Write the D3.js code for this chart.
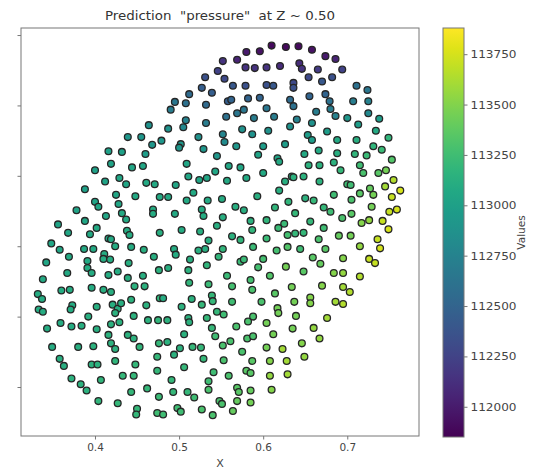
<!DOCTYPE html>
<html>
<head>
<meta charset="utf-8">
<script src="https://cdn.jsdelivr.net/npm/d3@7"></script>
<style>
  body { margin: 0; background: #fff; }
  svg { display: block; }
  text { font-family: "DejaVu Sans", sans-serif; }
</style>
</head>
<body>
<svg id="chart" width="535" height="472"></svg>
<script>
// Axis ticks
const xTicks = [0.4, 0.5, 0.6, 0.7];
const yTicks = [0.3, 0.4, 0.5, 0.6, 0.7, 0.8];
const colorTicks = [112000, 112250, 112500, 112750, 113000, 113250, 113500, 113750];

// Sample locations (X, Y) and predicted pressure, one line per patch of the slice
const X = [
  0.552,0.546,0.531,0.554,0.527,0.539,0.512,0.495,0.508,0.532,0.558,0.490,0.556,0.508,0.505,0.532,0.464,0.487,0.552,0.439,0.455,0.523,0.479,0.468,0.502,0.500,0.554,0.529,0.416,0.432,0.460,0.545,
  0.610,0.627,0.642,0.658,0.596,0.580,0.674,0.686,0.569,0.579,0.590,0.604,0.620,0.643,0.646,0.665,0.694,0.654,0.682,0.670,0.564,0.579,0.604,0.612,0.636,0.636,0.711,0.724,0.674,0.655,0.562,0.582,0.596,0.632,0.679,0.707,0.725,0.636,0.577,0.569,0.604,0.680,0.663,0.725,0.686,0.589,0.613,0.640,0.700,0.738,0.658,0.632,0.713,0.575,0.587,0.606,0.676,0.734,0.653,0.658,0.688,0.711,0.749,0.568,0.600,0.626,0.731,0.741,0.666,0.594,0.617,0.649,0.688,0.709,0.723,0.753,
  0.419,0.444,0.457,0.400,0.412,0.429,0.437,0.461,0.471,0.388,0.425,0.448,0.477,0.400,0.404,0.428,0.469,0.469,0.378,0.413,0.432,0.437,0.388,0.356,0.402,0.394,0.438,0.441,0.368,0.477,0.416,0.419,0.348,0.424,0.443,0.358,0.387,0.398,0.411,0.458,0.369,0.410,0.418,0.391,0.470,0.342,0.391,0.396,0.427,0.440,0.416,0.439,0.457,0.476,0.367,0.338,
  0.509,0.559,0.573,0.543,0.600,0.619,0.511,0.524,0.533,0.557,0.580,0.496,0.634,0.626,0.517,0.619,0.487,0.509,0.534,0.551,0.593,0.630,0.527,0.529,0.567,0.577,0.614,0.495,0.552,0.585,0.604,0.625,0.618,0.503,0.525,0.545,0.587,0.563,0.573,0.604,0.629,0.535,0.494,0.496,0.523,0.531,0.552,0.588,0.616,0.629,0.513,0.547,0.573,0.577,0.600,0.533,0.594,0.627,0.487,0.511,0.608,0.557,0.512,0.535,0.563,0.585,
  0.654,0.667,0.684,0.692,0.715,0.719,0.737,0.746,0.636,0.648,0.667,0.700,0.704,0.755,0.745,0.763,0.727,0.731,0.715,0.753,0.684,0.705,0.650,0.660,0.729,0.672,0.680,0.705,0.750,0.759,0.638,0.694,0.717,0.726,0.742,0.656,0.672,0.749,0.638,0.648,0.690,0.704,0.666,0.736,0.715,0.739,0.644,0.674,0.659,0.695,0.726,0.733,0.668,0.648,0.684,0.695,0.715,0.670,0.695,
  0.332,0.337,0.360,0.370,0.396,0.410,0.419,0.447,0.459,0.443,0.477,0.333,0.338,0.373,0.371,0.402,0.421,0.427,0.431,0.424,0.461,0.392,0.446,0.463,0.475,0.343,0.359,0.372,0.384,0.402,0.419,0.429,0.416,0.439,0.446,0.419,0.424,0.453,0.349,0.380,0.398,0.476,0.358,0.363,0.396,0.403,0.424,0.448,0.474,0.474,0.372,0.383,0.390,0.407,0.433,0.446,0.462,0.443,0.476,0.404,0.427,0.450,0.449,0.474,
  0.587,0.614,0.481,0.515,0.539,0.540,0.563,0.598,0.617,0.618,0.503,0.527,0.545,0.553,0.486,0.511,0.512,0.533,0.582,0.588,0.604,0.568,0.539,0.543,0.506,0.561,0.581,0.588,0.612,0.486,0.501,0.494,0.516,0.526,0.552,0.575,0.604,0.623,0.529,0.553,0.587,0.608,0.628,0.506,0.580,0.585,0.541,0.559,0.608,0.629,0.535,0.491,0.569,0.571,0.585,0.610,0.493,0.510,0.518,0.535,0.548,0.551,0.569,0.585,0.498,0.502,0.527,0.540,0.564,0.481,
  0.703,0.634,0.637,0.656,0.656,0.686,0.695,0.639,0.676,0.635,0.660,0.667,0.646,0.649
];
const Y = [
  0.763,0.749,0.740,0.738,0.725,0.718,0.716,0.705,0.703,0.701,0.706,0.694,0.684,0.679,0.669,0.675,0.672,0.667,0.659,0.655,0.655,0.655,0.650,0.644,0.645,0.640,0.648,0.638,0.635,0.634,0.631,0.628,
  0.785,0.783,0.784,0.779,0.777,0.776,0.770,0.766,0.765,0.754,0.753,0.754,0.756,0.760,0.752,0.751,0.751,0.740,0.740,0.734,0.728,0.728,0.729,0.728,0.732,0.725,0.728,0.722,0.716,0.713,0.708,0.710,0.711,0.708,0.706,0.706,0.706,0.699,0.694,0.689,0.696,0.695,0.691,0.689,0.685,0.682,0.684,0.680,0.682,0.681,0.675,0.670,0.673,0.666,0.659,0.664,0.663,0.664,0.658,0.651,0.651,0.651,0.654,0.642,0.642,0.645,0.642,0.637,0.636,0.630,0.625,0.631,0.632,0.631,0.629,0.623,
  0.617,0.612,0.614,0.608,0.592,0.597,0.588,0.590,0.588,0.581,0.573,0.571,0.570,0.563,0.556,0.560,0.552,0.546,0.551,0.543,0.547,0.538,0.536,0.531,0.526,0.517,0.522,0.516,0.519,0.519,0.511,0.510,0.504,0.500,0.499,0.495,0.496,0.496,0.489,0.495,0.485,0.482,0.481,0.479,0.485,0.477,0.469,0.462,0.464,0.476,0.459,0.455,0.458,0.466,0.462,0.453,
  0.617,0.614,0.612,0.606,0.604,0.620,0.599,0.594,0.597,0.593,0.597,0.587,0.599,0.592,0.576,0.579,0.570,0.565,0.565,0.567,0.571,0.563,0.552,0.543,0.556,0.551,0.555,0.546,0.541,0.536,0.537,0.532,0.526,0.523,0.521,0.529,0.523,0.514,0.509,0.511,0.516,0.508,0.496,0.488,0.494,0.496,0.496,0.499,0.494,0.499,0.481,0.485,0.478,0.481,0.482,0.473,0.470,0.471,0.469,0.466,0.458,0.458,0.448,0.446,0.443,0.452,
  0.615,0.615,0.619,0.608,0.615,0.604,0.604,0.608,0.598,0.599,0.592,0.588,0.587,0.594,0.585,0.579,0.582,0.573,0.575,0.570,0.573,0.566,0.568,0.565,0.556,0.555,0.549,0.546,0.549,0.552,0.547,0.540,0.533,0.537,0.536,0.535,0.526,0.524,0.518,0.519,0.515,0.515,0.510,0.510,0.500,0.497,0.496,0.496,0.484,0.483,0.482,0.476,0.475,0.464,0.462,0.462,0.457,0.444,0.442,
  0.432,0.425,0.437,0.438,0.441,0.438,0.435,0.443,0.443,0.424,0.426,0.410,0.407,0.416,0.410,0.414,0.417,0.411,0.419,0.405,0.416,0.400,0.401,0.395,0.395,0.383,0.391,0.386,0.387,0.382,0.389,0.392,0.374,0.374,0.369,0.362,0.354,0.357,0.357,0.357,0.358,0.362,0.340,0.330,0.332,0.332,0.337,0.332,0.343,0.323,0.312,0.304,0.295,0.310,0.316,0.316,0.298,0.293,0.286,0.280,0.277,0.269,0.261,0.263,
  0.438,0.433,0.426,0.425,0.430,0.422,0.421,0.421,0.412,0.405,0.414,0.417,0.407,0.403,0.395,0.398,0.392,0.398,0.393,0.400,0.391,0.386,0.384,0.372,0.375,0.365,0.369,0.372,0.375,0.364,0.355,0.346,0.357,0.356,0.359,0.350,0.356,0.354,0.340,0.338,0.337,0.337,0.337,0.328,0.323,0.320,0.321,0.316,0.316,0.318,0.308,0.310,0.299,0.293,0.295,0.296,0.293,0.293,0.285,0.296,0.280,0.276,0.280,0.278,0.270,0.265,0.268,0.260,0.266,0.261,
  0.435,0.442,0.421,0.427,0.419,0.421,0.418,0.401,0.398,0.383,0.384,0.369,0.362,0.343
];
const pressure = [
  112150,112250,112350,112300,112450,112450,112550,112650,112600,112550,112450,112700,112600,112750,112800,112700,112875,112875,112775,112925,112925,112875,112925,112925,112925,112925,112825,112925,113000,113000,112975,112925,
  111900,111900,111900,111950,111950,112000,112000,112050,112050,112150,112150,112150,112100,112100,112150,112200,112250,112300,112350,112400,112400,112350,112350,112400,112300,112350,112600,112650,112500,112500,112500,112500,112500,112550,112600,112700,112750,112600,112650,112650,112650,112700,112700,112800,112750,112700,112700,112750,112925,112975,112875,112875,112975,112875,112875,112875,112975,113075,112975,112975,113075,113125,113175,112925,112975,112975,113175,113225,113075,113025,113025,113075,113125,113175,113225,113325,
  113025,113050,113050,113000,113025,113050,113050,113075,113075,113000,113050,113075,113075,113025,113050,113050,113100,113100,113025,113050,113075,113075,113050,113025,113075,113075,113100,113100,113050,113125,113075,113075,113050,113100,113100,113050,113075,113075,113100,113125,113075,113100,113100,113075,113125,113050,113100,113100,113100,113125,113100,113125,113125,113150,113075,113075,
  113050,113050,113050,113050,113075,113075,113050,113050,113050,113075,113075,113050,113125,113125,113075,113125,113075,113075,113075,113100,113125,113175,113100,113100,113125,113125,113175,113075,113125,113150,113175,113225,113225,113100,113125,113125,113175,113150,113175,113225,113275,113125,113100,113100,113125,113125,113175,113225,113275,113325,113125,113175,113225,113225,113275,113175,113275,113450,113125,113150,113325,113225,113175,113225,113275,113275,
  113150,113150,113150,113200,113250,113300,113350,113450,113150,113150,113150,113250,113250,113650,113600,113750,113400,113450,113350,113700,113250,113300,113150,113200,113450,113200,113250,113350,113700,113750,113200,113300,113500,113550,113700,113200,113250,113750,113200,113200,113400,113450,113300,113700,113550,113750,113250,113350,113350,113500,113700,113700,113400,113350,113500,113550,113650,113500,113600,
  113100,113100,113100,113100,113100,113125,113125,113150,113150,113150,113175,113100,113100,113100,113100,113125,113125,113125,113125,113150,113150,113125,113150,113150,113175,113100,113100,113100,113125,113125,113150,113150,113150,113150,113150,113150,113150,113175,113100,113125,113150,113200,113125,113125,113150,113150,113175,113200,113200,113200,113150,113150,113150,113175,113200,113200,113200,113200,113225,113175,113200,113200,113200,113250,
  113300,113350,113100,113150,113200,113200,113250,113300,113450,113450,113150,113200,113200,113250,113150,113150,113150,113200,113300,113300,113450,113300,113200,113250,113150,113300,113300,113300,113450,113150,113150,113150,113200,113200,113300,113300,113450,113600,113200,113300,113350,113500,113600,113200,113350,113350,113250,113300,113550,113600,113250,113200,113350,113350,113400,113500,113200,113200,113250,113300,113300,113300,113400,113450,113250,113250,113300,113300,113400,113250,
  113650,113450,113450,113500,113500,113600,113650,113450,113600,113450,113550,113550,113500,113550
];

const W = 535, H = 472;
const plot = { left: 21, right: 419, top: 28, bottom: 436 };
const bar = { left: 443, right: 464, top: 28, bottom: 437 };
const domainP = [111850, 113880];

const svg = d3.select("#chart");
svg.append("rect").attr("width", W).attr("height", H).attr("fill", "#fff");

const x = d3.scaleLinear().domain([0.312, 0.7853]).range([plot.left, plot.right]);
const y = d3.scaleLinear().domain([0.2304, 0.810]).range([plot.bottom, plot.top]);
const color = d3.scaleSequential(d3.interpolateViridis).domain(domainP);

const points = X.map((d, i) => ({ x: d, y: Y[i], p: pressure[i] }));

// Title
svg.append("text")
  .attr("x", (plot.left + plot.right) / 2).attr("y", 20)
  .attr("text-anchor", "middle").attr("font-size", 12.5).attr("fill", "#333")
  .attr("textLength", 230).attr("lengthAdjust", "spacingAndGlyphs")
  .style("white-space", "pre")
  .text('Prediction  "pressure"  at Z ~ 0.50');

// Scatter
svg.append("g").selectAll("circle").data(points).join("circle")
  .attr("cx", d => x(d.x)).attr("cy", d => y(d.y)).attr("r", 3.4)
  .attr("fill", d => color(d.p))
  .attr("stroke", "#262626").attr("stroke-width", 1.3);

// Frame
svg.append("rect")
  .attr("x", plot.left).attr("y", plot.top)
  .attr("width", plot.right - plot.left).attr("height", plot.bottom - plot.top)
  .attr("fill", "none").attr("stroke", "#777").attr("stroke-width", 1);

// X axis
const gx = svg.append("g").attr("transform", `translate(0,${plot.bottom})`)
  .call(d3.axisBottom(x).tickValues(xTicks).tickSize(3.5).tickPadding(4).tickFormat(d3.format(".1f")));
gx.select(".domain").remove();
gx.selectAll("line").attr("stroke", "#777");
gx.selectAll("text").attr("font-size", 10.5).attr("fill", "#444").attr("font-family", "DejaVu Sans");

// Y axis (tick marks only)
const gy = svg.append("g").attr("transform", `translate(${plot.left},0)`)
  .call(d3.axisLeft(y).tickValues(yTicks).tickSize(3.5).tickFormat(""));
gy.select(".domain").remove();
gy.selectAll("line").attr("stroke", "#777");

svg.append("text")
  .attr("x", (plot.left + plot.right) / 2).attr("y", 467)
  .attr("text-anchor", "middle").attr("font-size", 11).attr("fill", "#444")
  .text("X");

// Colour bar
const cb = d3.scaleLinear().domain(domainP).range([bar.bottom, bar.top]);
const grad = svg.append("defs").append("linearGradient")
  .attr("id", "cbar").attr("x1", 0).attr("y1", 1).attr("x2", 0).attr("y2", 0);
d3.range(0, 1.0001, 0.05).forEach(t => {
  grad.append("stop").attr("offset", t).attr("stop-color", d3.interpolateViridis(t));
});
svg.append("rect")
  .attr("x", bar.left).attr("y", bar.top)
  .attr("width", bar.right - bar.left).attr("height", bar.bottom - bar.top)
  .attr("fill", "url(#cbar)").attr("stroke", "#777").attr("stroke-width", 1);

const gc = svg.append("g").attr("transform", `translate(${bar.right},0)`)
  .call(d3.axisRight(cb).tickValues(colorTicks).tickSize(3.5).tickPadding(3).tickFormat(d3.format("d")));
gc.select(".domain").remove();
gc.selectAll("line").attr("stroke", "#777");
gc.selectAll("text").attr("font-size", 11).attr("fill", "#444").attr("font-family", "DejaVu Sans")
  .attr("textLength", 46).attr("lengthAdjust", "spacingAndGlyphs");

svg.append("text")
  .attr("transform", `translate(525,${(bar.top + bar.bottom) / 2}) rotate(-90)`)
  .attr("text-anchor", "middle").attr("font-size", 10.5).attr("fill", "#444")
  .text("Values");
</script>
</body>
</html>
